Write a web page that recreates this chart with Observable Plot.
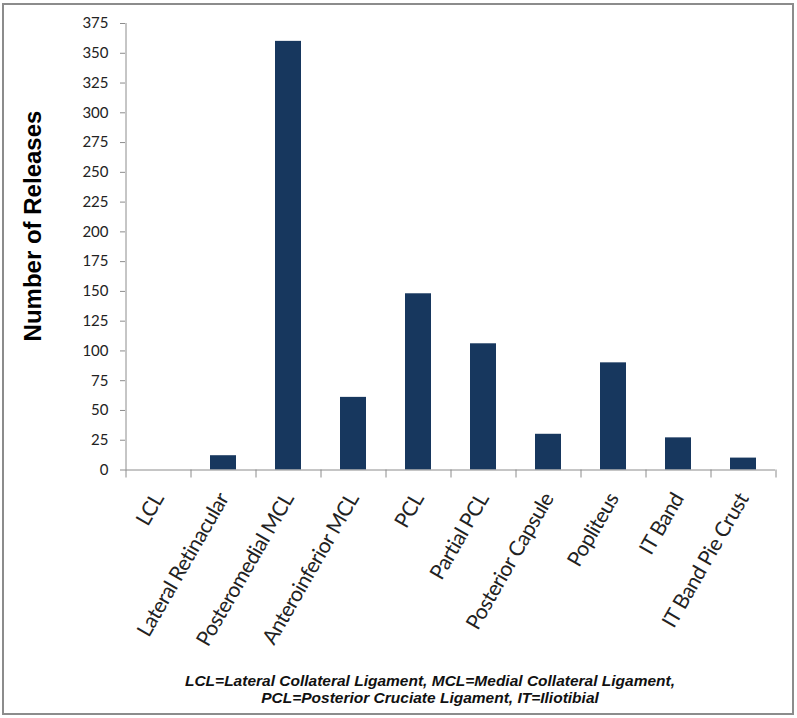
<!DOCTYPE html>
<html>
<head>
<meta charset="utf-8">
<script src="https://cdn.jsdelivr.net/npm/d3@7"></script>
<script src="https://cdn.jsdelivr.net/npm/@observablehq/plot@0.6"></script>
<style>
  html, body { margin: 0; padding: 0; background: #fff; }
  #wrap { position: relative; width: 797px; height: 718px; overflow: hidden; background: #fff; }
  #border { position: absolute; left: 2px; top: 3px; width: 792px; height: 712px; box-sizing: border-box; border: 2px solid #8c8c8c; pointer-events: none; }
  #chart svg { display: block; }
  #caption { position: absolute; left: 0; width: 860px; top: 672px; text-align: center;
    font-family: "Liberation Sans Narrow", "Arial Narrow", "Liberation Sans", sans-serif;
    font-weight: bold; font-style: italic; font-size: 15.5px; line-height: 17px; color: #111; }
  #ylabel { position: absolute; left: 33px; top: 226px; transform: translate(-50%, -50%) rotate(-90deg);
    white-space: nowrap; font-family: "Liberation Sans", Arial, sans-serif; font-weight: bold; font-size: 24px; color: #000; }
</style>
</head>
<body>
<div id="wrap">
  <div id="chart"></div>
  <div id="ylabel"></div>
  <div id="caption">LCL=Lateral Collateral Ligament, MCL=Medial Collateral Ligament,<br>PCL=Posterior Cruciate Ligament, IT=Iliotibial</div>
  <div id="border"></div>
</div>
<script>
const categories = ["LCL", "Lateral Retinacular", "Posteromedial MCL", "Anteroinferior MCL", "PCL",
  "Partial PCL", "Posterior Capsule", "Popliteus", "IT Band", "IT Band Pie Crust"];
const releases = [0, 12, 360, 61, 148, 106, 30, 90, 27, 10];
const yTicks = [0, 25, 50, 75, 100, 125, 150, 175, 200, 225, 250, 275, 300, 325, 350, 375];
const yLabel = "Number of Releases";

document.getElementById("ylabel").textContent = yLabel;

const data = categories.map((c, i) => ({category: c, value: releases[i]}));
const axisColor = "#8c8c8c";
const half = 32.5; // half of a band step (650px / 10 categories / 2)

const chart = Plot.plot({
  width: 797,
  height: 660,
  marginLeft: 125,
  marginRight: 22,
  marginTop: 23,
  marginBottom: 190.5,
  style: {fontFamily: "Lato, 'Open Sans', sans-serif", fontSize: "15px", color: "#222", background: "transparent"},
  x: {domain: categories, paddingInner: 0.6, paddingOuter: 0.3, tickSize: 0, tickPadding: 25, tickRotate: -60, label: null},
  y: {domain: [0, 375], ticks: yTicks, tickSize: 5, tickPadding: 12, label: null},
  marks: [
    Plot.barY(data, {x: "category", y: "value", fill: "#17375E"}),
    // vertical axis line
    Plot.ruleX([categories[0]], {x: d => d, y1: 0, y2: 375, dx: -half, stroke: axisColor}),
    // horizontal axis line
    Plot.ruleY([0], {stroke: axisColor}),
    // category boundary ticks
    Plot.ruleX(categories, {x: d => d, y1: 0, y2: 0, insetBottom: -8, dx: -half, stroke: axisColor}),
    Plot.ruleX([categories[categories.length - 1]], {x: d => d, y1: 0, y2: 0, insetBottom: -8, dx: half, stroke: axisColor})
  ]
});
chart.querySelectorAll('g[aria-label^="y-axis"] line, g[aria-label^="y-axis"] path').forEach(el => el.setAttribute("stroke", axisColor));
chart.querySelectorAll("text").forEach(t => {
  if (categories.includes(t.textContent)) {
    t.style.fontSize = "21px";
    t.style.letterSpacing = "-0.5px";
  }
});
document.getElementById("chart").appendChild(chart);
</script>
</body>
</html>
